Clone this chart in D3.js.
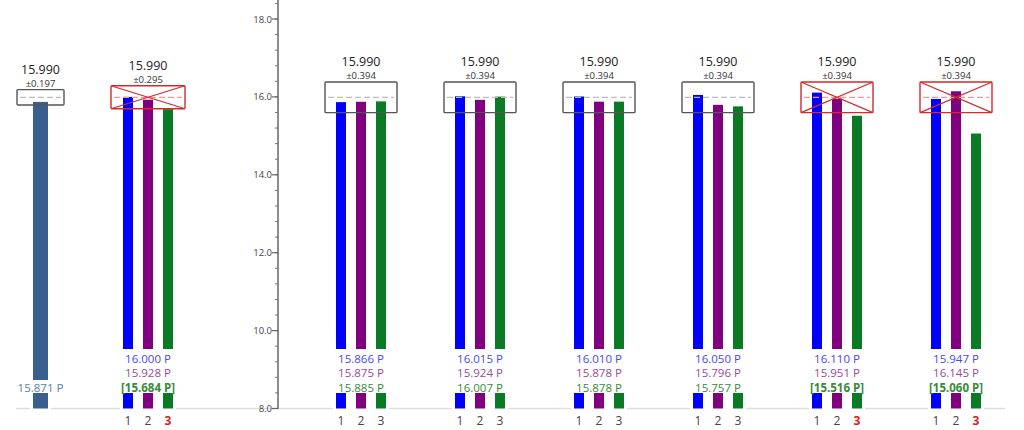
<!DOCTYPE html>
<html><head><meta charset="utf-8">
<script src="https://cdn.jsdelivr.net/npm/d3@7/dist/d3.min.js"></script>
<style>body{margin:0;background:#fff}svg{display:block;font-family:"Open Sans","Noto Sans",sans-serif}</style>
</head><body><svg id="c" width="1024" height="430"></svg>
<script>
// ---- data ----
const nominal = 15.990;
const seriesNames = ["1", "2", "3"];
const seriesColors = ["#0000ff", "#800080", "#0b7a25"];
const labelColors = ["#4646ff", "#9a4a9a", "#3a8a3a"];
const panel1Value = 15.871;
const panel1Tol = 0.197;
const panel2Values = [16.000, 15.928, 15.684];
const panel2Tol = 0.295;
const mainGroups = ["A", "B", "C", "D", "E", "F"];
const mainTol = 0.394;
const series1 = [15.866, 16.015, 16.010, 16.050, 16.110, 15.947];
const series2 = [15.875, 15.924, 15.878, 15.796, 15.951, 16.145];
const series3 = [15.885, 16.007, 15.878, 15.757, 15.516, 15.060];
const yTicks = [8, 10, 12, 14, 16, 18];

const svg = d3.select("#c");
const y = d3.scaleLinear().domain([8, 18]).range([408.5, 19]);
const xMain = d3.scalePoint().domain(mainGroups).range([361, 956]);
const inner = d3.scaleBand().domain(seriesNames).range([-30, 30]).paddingInner(0.5).paddingOuter(0.25);
const fmt = d3.format(".3f");
const base = y(8);

// baseline
svg.append("line").attr("x1", 16).attr("x2", 1005).attr("y1", base).attr("y2", base)
  .attr("stroke", "#dedede").attr("stroke-width", 1.5);

// y axis
const ax = svg.append("g").attr("transform", "translate(278,0)");
const minor = d3.range(8, 18.01, 0.4).concat(d3.range(18.4, 20, 0.4));
ax.selectAll(".mn").data(minor).join("line").attr("x1", -3).attr("x2", 0)
  .attr("y1", d => y(d)).attr("y2", d => y(d)).attr("stroke", "#777").attr("stroke-width", 1);
ax.selectAll(".mj").data(yTicks).join("line").attr("x1", -6).attr("x2", 0)
  .attr("y1", d => y(d)).attr("y2", d => y(d)).attr("stroke", "#666").attr("stroke-width", 1.2);
ax.selectAll(".tl").data(yTicks).join("text").attr("x", -6).attr("y", d => y(d) + 3.5)
  .attr("text-anchor", "end").attr("font-size", 9.5).attr("fill", "#444").text(d => d.toFixed(1));
ax.append("line").attr("x1", 0).attr("x2", 0).attr("y1", 0).attr("y2", base + 0.5)
  .attr("stroke", "#666").attr("stroke-width", 1.5);

function drawGroup(cx, values, tol, opts) {
  const g = svg.append("g");
  const single = values.length === 1;
  const bars = values.map((v, i) => {
    const w = single ? 15 : inner.bandwidth();
    const x0 = single ? cx - 7.5 : cx + inner(seriesNames[i]);
    const out = Math.abs(v - nominal) > tol + 1e-9;
    return { v, i, x0, w, out, color: single ? "#3a5f8f" : seriesColors[i], lc: single ? "#5a80a8" : labelColors[i] };
  });
  const left = d3.min(bars, b => b.x0), right = d3.max(bars, b => b.x0 + b.w);
  // baseline gap
  g.append("rect").attr("x", left - 3).attr("y", base - 2).attr("width", right - left + 6).attr("height", 5).attr("fill", "#fff");
  // bars
  g.selectAll(".bar").data(bars).join("rect").attr("x", d => d.x0).attr("width", d => d.w)
    .attr("y", d => y(d.v)).attr("height", d => base - y(d.v)).attr("fill", d => d.color);
  // label white-out
  const top = single ? 380 : 349;
  g.append("rect").attr("x", cx - 40).attr("y", top).attr("width", 80).attr("height", 393 - top).attr("fill", "#fff");
  const rowY = single ? [391.5] : [362.5, 377, 391.5];
  g.selectAll(".lab").data(bars).join("text").attr("x", cx).attr("y", (d, k) => rowY[k])
    .attr("text-anchor", "middle").attr("font-size", 11.5).attr("fill", d => d.lc)
    .attr("font-weight", d => d.out ? "bold" : "normal")
    .text(d => d.out ? "[" + fmt(d.v) + " P]" : fmt(d.v) + " P");
  if (!single) {
    g.selectAll(".num").data(bars).join("text").attr("x", d => d.x0 + d.w / 2).attr("y", 424.5)
      .attr("text-anchor", "middle").attr("font-size", 12)
      .attr("fill", d => d.out ? "#e02020" : "#444").attr("font-weight", d => d.out ? "bold" : "normal")
      .text((d, k) => seriesNames[k]);
  }
  // spec box
  const fail = bars.some(b => b.out);
  const bw = opts.boxW;
  const bt = y(nominal + tol), bb = y(nominal - tol);
  const stroke = fail ? "#d42a2a" : "#555";
  g.append("line").attr("x1", cx - bw / 2 + 3).attr("x2", cx + bw / 2 - 3).attr("y1", y(nominal)).attr("y2", y(nominal))
    .attr("stroke", fail ? "#ec9a9a" : "#bdbdbd").attr("stroke-width", 1.3).attr("stroke-dasharray", "6,3");
  g.append("rect").attr("x", cx - bw / 2).attr("y", bt).attr("width", bw).attr("height", bb - bt)
    .attr("fill", "none").attr("stroke", stroke).attr("stroke-width", 1.4).attr("rx", 1);
  if (fail) {
    g.append("line").attr("x1", cx - bw / 2).attr("y1", bt).attr("x2", cx + bw / 2).attr("y2", bb).attr("stroke", stroke).attr("stroke-width", 1.2);
    g.append("line").attr("x1", cx - bw / 2).attr("y1", bb).attr("x2", cx + bw / 2).attr("y2", bt).attr("stroke", stroke).attr("stroke-width", 1.2);
  }
  g.append("text").attr("x", cx).attr("y", bt - 16).attr("text-anchor", "middle").attr("font-size", 12.5)
    .attr("fill", "#222").text(fmt(nominal));
  g.append("text").attr("x", cx).attr("y", bt - 3).attr("text-anchor", "middle").attr("font-size", 9.5)
    .attr("fill", "#333").text("±" + fmt(tol));
}

drawGroup(40.5, [panel1Value], panel1Tol, { boxW: 47 });
drawGroup(148, panel2Values, panel2Tol, { boxW: 74 });
mainGroups.forEach((gname, k) => {
  drawGroup(xMain(gname), [series1[k], series2[k], series3[k]], mainTol, { boxW: 72 });
});
</script></body></html>
